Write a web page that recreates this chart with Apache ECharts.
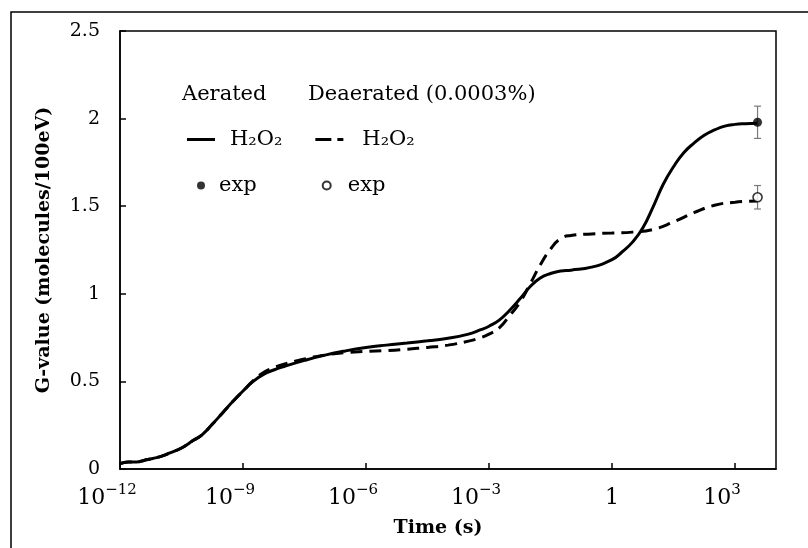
<!DOCTYPE html>
<html>
<head>
<meta charset="utf-8">
<script src="https://cdn.jsdelivr.net/npm/echarts@6/dist/echarts.min.js"></script>
<style>
html,body{margin:0;padding:0;background:#fff;}
#chart{width:808px;height:548px;}
</style>
</head>
<body>
<div id="chart"></div>
<script>
// Time is stored as log10(t / s)
const timeExpAerated = [-12.0,-11.8,-11.6,-11.4,-11.2,-11.0,-10.8,-10.5,-10.2,-10.0,-9.75,-9.5,-9.25,-9.0,-8.75,-8.5,-8.25,-8.0,-7.5,-7.0,-6.5,-6.0,-5.5,-5.0,-4.5,-4.0,-3.5,-3.2,-3.0,-2.75,-2.5,-2.25,-2.0,-1.75,-1.5,-1.25,-1.0,-0.5,0.0,0.25,0.5,0.75,1.0,1.25,1.5,1.75,2.0,2.25,2.5,2.75,3.0,3.25,3.55];
const gAerated = [0.03,0.04,0.04,0.05,0.06,0.072,0.09,0.12,0.165,0.195,0.255,0.32,0.385,0.445,0.5,0.54,0.565,0.585,0.62,0.65,0.674,0.693,0.707,0.719,0.732,0.746,0.77,0.795,0.815,0.85,0.905,0.97,1.04,1.09,1.116,1.13,1.135,1.152,1.195,1.24,1.295,1.375,1.495,1.625,1.725,1.805,1.86,1.905,1.935,1.957,1.967,1.971,1.973];
const timeExpDeaerated = [-12.0,-11.8,-11.6,-11.4,-11.2,-11.0,-10.8,-10.5,-10.2,-10.0,-9.75,-9.5,-9.25,-9.0,-8.75,-8.5,-8.25,-8.0,-7.5,-7.0,-6.5,-6.0,-5.5,-5.0,-4.5,-4.0,-3.5,-3.2,-3.0,-2.75,-2.5,-2.25,-2.0,-1.75,-1.5,-1.25,-1.0,-0.5,0.0,0.5,1.0,1.5,2.0,2.5,3.0,3.55];
const gDeaerated = [0.03,0.04,0.04,0.05,0.06,0.072,0.09,0.12,0.165,0.195,0.255,0.32,0.385,0.445,0.505,0.55,0.578,0.598,0.628,0.65,0.664,0.671,0.676,0.684,0.694,0.707,0.73,0.75,0.77,0.805,0.875,0.95,1.055,1.165,1.255,1.315,1.333,1.342,1.347,1.352,1.367,1.41,1.463,1.505,1.523,1.53];
const expTimeExp = [3.55];
const expAerated = [1.979];
const expAeratedErr = [0.092];
const expDeaerated = [1.551];
const expDeaeratedErr = [0.067];
const xTickExps = [-12,-9,-6,-3,0,3];

const FONT = 'DejaVu Serif';
const chart = echarts.init(document.getElementById('chart'));

const zip = (xs, ys) => xs.map((x, i) => [x, ys[i]]);
const errData = [
  [expTimeExp[0], expAerated[0], expAeratedErr[0]],
  [expTimeExp[0], expDeaerated[0], expDeaeratedErr[0]]
];

const option = {
  backgroundColor: '#fff',
  animation: false,
  textStyle: { fontFamily: FONT, color: '#000' },
  grid: { left: 120, right: 32, top: 31, bottom: 79, show: true, borderColor: '#000', borderWidth: 1.5, backgroundColor: 'transparent' },
  xAxis: {
    type: 'value', min: -12, max: 4, interval: 3,
    name: 'Time (s)', nameLocation: 'middle', nameGap: 50,
    nameTextStyle: { fontFamily: FONT, fontWeight: 'bold', fontSize: 19, color: '#000', padding: [0, 20, 0, 0] },
    axisLine: { show: true, onZero: false, lineStyle: { color: '#000', width: 1.5 } },
    axisTick: { show: true, inside: true, length: 6, lineStyle: { color: '#000', width: 1.5 } },
    splitLine: { show: false },
    axisLabel: {
      margin: 14, showMaxLabel: false,
      formatter: function (v) {
        if (xTickExps.indexOf(v) < 0) return '';
        if (v === 0) return '{b|1}';
        return '{b|10}{s|' + (v < 0 ? '\u2212' : '') + Math.abs(v) + '}{pad|}';
      },
      rich: {
        b: { fontFamily: FONT, fontSize: 22, lineHeight: 31, color: '#000' },
        s: { fontFamily: FONT, fontSize: 15, verticalAlign: 'top', color: '#000' },
        pad: { width: 26 }
      }
    }
  },
  yAxis: {
    type: 'value', min: 0, max: 2.5, interval: 0.5,
    name: 'G-value (molecules/100eV)', nameLocation: 'middle', nameGap: 66, nameRotate: 90,
    nameTextStyle: { fontFamily: FONT, fontWeight: 'bold', fontSize: 19, color: '#000' },
    axisLine: { show: true, onZero: false, lineStyle: { color: '#000', width: 1.5 } },
    axisTick: { show: true, inside: true, length: 6, lineStyle: { color: '#000', width: 1.5 } },
    splitLine: { show: false },
    axisLabel: { margin: 20, fontFamily: FONT, fontSize: 19, color: '#000' }
  },
  legend: [
    {
      orient: 'horizontal', left: 182, top: 124, itemWidth: 28, itemHeight: 3, itemGap: 33,
      selectedMode: false,
      formatter: function () { return 'H\u2082O\u2082'; },
      textStyle: { fontFamily: FONT, fontSize: 21, color: '#000' },
      data: [
        { name: 'Aerated H2O2', icon: 'rect', itemStyle: { color: '#000' }, textStyle: { padding: [0, 0, 0, 10] } },
        { name: 'Deaerated H2O2', icon: 'path://M0,0H16V3H0Z M22,0H28V3H22Z', itemStyle: { color: '#000' }, textStyle: { padding: [0, 0, 0, 14] } }
      ]
    },
    {
      orient: 'horizontal', left: 192, top: 170, itemWidth: 10, itemHeight: 8, itemGap: 65,
      selectedMode: false,
      formatter: function () { return 'exp'; },
      textStyle: { fontFamily: FONT, fontSize: 21, color: '#000' },
      data: [
        { name: 'Aerated exp', icon: 'circle', textStyle: { padding: [0, 0, 0, 8] } },
        { name: 'Deaerated exp', icon: 'circle', textStyle: { padding: [0, 0, 0, 11] } }
      ]
    }
  ],
  graphic: [
    { type: 'rect', silent: true, shape: { x: 11, y: 12, width: 1200, height: 1200 }, style: { fill: 'none', stroke: '#000', lineWidth: 1.5 } },
    { type: 'text', left: 182, top: 84, style: { text: 'Aerated', fontFamily: FONT, fontSize: 21, fill: '#000' } },
    { type: 'text', left: 308, top: 84, style: { text: 'Deaerated (0.0003%)', fontFamily: FONT, fontSize: 21, fill: '#000' } }
  ],
  series: [
    {
      name: 'Aerated H2O2', type: 'line', data: zip(timeExpAerated, gAerated),
      symbol: 'none', smooth: 0.5,
      lineStyle: { color: '#000', width: 3 }, itemStyle: { color: '#000' }, z: 3
    },
    {
      name: 'Deaerated H2O2', type: 'line', data: zip(timeExpDeaerated, gDeaerated),
      symbol: 'none', smooth: 0.5,
      lineStyle: { color: '#000', width: 3, type: [12, 7] }, itemStyle: { color: '#000' }, z: 3
    },
    {
      name: 'errorbars', type: 'custom', data: errData, z: 4,
      renderItem: function (params, api) {
        const x = api.value(0), y = api.value(1), e = api.value(2);
        const top = api.coord([x, y + e]);
        const bot = api.coord([x, y - e]);
        const hw = 3.5;
        const st = { stroke: '#7a7a7a', lineWidth: 1.2 };
        return {
          type: 'group',
          children: [
            { type: 'line', shape: { x1: top[0], y1: top[1], x2: bot[0], y2: bot[1] }, style: st },
            { type: 'line', shape: { x1: top[0] - hw, y1: top[1], x2: top[0] + hw, y2: top[1] }, style: st },
            { type: 'line', shape: { x1: bot[0] - hw, y1: bot[1], x2: bot[0] + hw, y2: bot[1] }, style: st }
          ]
        };
      }
    },
    {
      name: 'Aerated exp', type: 'scatter', data: zip(expTimeExp, expAerated),
      symbol: 'circle', symbolSize: 9, itemStyle: { color: '#000' }, z: 5
    },
    {
      name: 'Deaerated exp', type: 'scatter', data: zip(expTimeExp, expDeaerated),
      symbol: 'circle', symbolSize: 9, itemStyle: { color: '#fff', borderColor: '#000', borderWidth: 1.6 }, z: 5
    }
  ]
};
chart.setOption(option);
</script>
</body>
</html>
